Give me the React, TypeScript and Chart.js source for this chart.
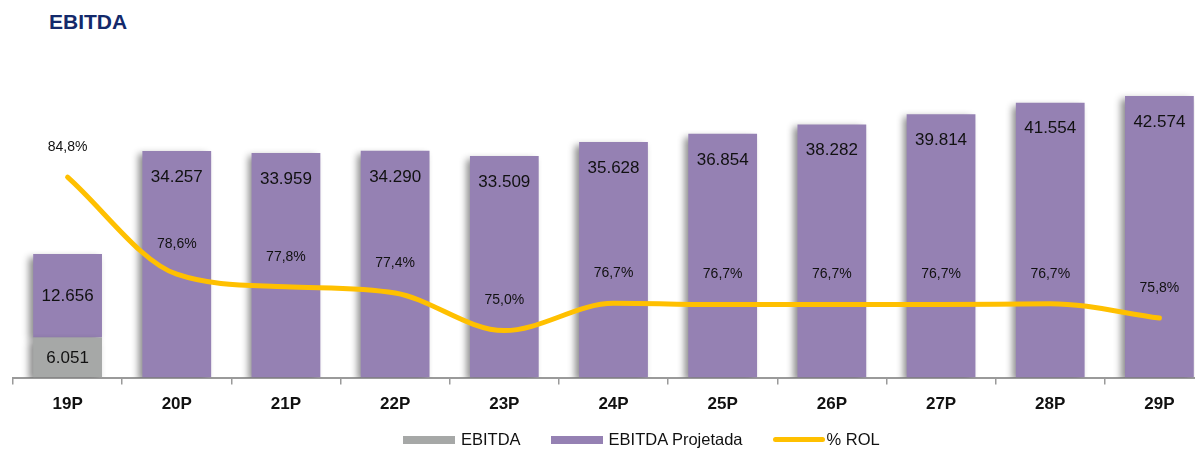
import React, { useEffect, useRef } from "react";
import { Chart, registerables } from "chart.js";

Chart.register(...registerables);

const categories = ["19P", "20P", "21P", "22P", "23P", "24P", "25P", "26P", "27P", "28P", "29P"];
const ebitda = [6051, null, null, null, null, null, null, null, null, null, null];
const ebitdaProjetada = [12656, 34257, 33959, 34290, 33509, 35628, 36854, 38282, 39814, 41554, 42574];
const rol = [84.8, 78.6, 77.8, 77.4, 75.0, 76.74, 76.66, 76.66, 76.66, 76.72, 75.8];

const FONT = '"Liberation Sans", Arial, sans-serif';
const GREY = "#a6a8a7";
const PURPLE = "#9581b3";
const YELLOW = "#ffc000";

const fmtNum = (v: number) => v.toLocaleString("pt-BR");
const fmtPct = (v: number) => v.toFixed(1).replace(".", ",") + "%";

const shadowPlugin = {
  id: "barShadow",
  beforeDatasetDraw(chart: any, args: any) {
    const ds = chart.data.datasets[args.index];
    if (ds.type === "line") return;
    const ctx = chart.ctx;
    ctx.save();
    ctx.shadowColor = "rgba(0,0,0,0.45)";
    ctx.shadowBlur = 7;
    ctx.shadowOffsetX = -4;
    ctx.shadowOffsetY = 3;
  },
  afterDatasetDraw(chart: any, args: any) {
    const ds = chart.data.datasets[args.index];
    if (ds.type === "line") return;
    chart.ctx.restore();
  },
};

const labelPlugin = {
  id: "valueLabels",
  afterDatasetsDraw(chart: any) {
    const ctx = chart.ctx;
    ctx.save();
    ctx.fillStyle = "#111111";
    ctx.textAlign = "center";
    ctx.textBaseline = "middle";
    chart.data.datasets.forEach((ds: any, di: number) => {
      const meta = chart.getDatasetMeta(di);
      meta.data.forEach((el: any, i: number) => {
        const v = ds.data[i];
        if (v == null) return;
        if (ds.type === "line") {
          ctx.font = `14px ${FONT}`;
          ctx.fillText(fmtPct(v), el.x, el.y - 30);
        } else {
          ctx.font = `17px ${FONT}`;
          const h = Math.abs(el.base - el.y);
          const top = Math.min(el.y, el.base);
          const bottom = Math.max(el.y, el.base);
          const y = h < 150 ? (top + bottom) / 2 + 1 : top + 26;
          ctx.fillText(fmtNum(v), el.x, y);
        }
      });
    });
    ctx.restore();
  },
};

export default function App() {
  const ref = useRef<HTMLCanvasElement | null>(null);
  useEffect(() => {
    if (!ref.current) return;
    const chart = new Chart(ref.current, {
      type: "bar",
      data: {
        labels: categories,
        datasets: [
          {
            type: "bar",
            label: "EBITDA",
            data: ebitda as any,
            backgroundColor: GREY,
            stack: "s",
            yAxisID: "y",
            order: 1,
            barPercentage: 0.63,
            categoryPercentage: 1,
          },
          {
            type: "bar",
            label: "EBITDA Projetada",
            data: ebitdaProjetada,
            backgroundColor: PURPLE,
            stack: "s",
            yAxisID: "y",
            order: 2,
            barPercentage: 0.63,
            categoryPercentage: 1,
          },
          {
            type: "line",
            label: "% ROL",
            data: rol,
            borderColor: YELLOW,
            backgroundColor: YELLOW,
            borderWidth: 5,
            borderCapStyle: "round",
            pointRadius: 0,
            cubicInterpolationMode: "monotone",
            yAxisID: "y2",
            order: 0,
          } as any,
        ],
      },
      options: {
        animation: false,
        responsive: false,
        maintainAspectRatio: false,
        layout: { padding: { left: 13, right: 0, top: 80, bottom: 27 } },
        plugins: { legend: { display: false }, tooltip: { enabled: false }, title: { display: false } },
        scales: {
          x: {
            stacked: true,
            offset: true,
            grid: {
              display: true,
              drawOnChartArea: false,
              tickLength: 7,
              color: "#9a9a9a",
              lineWidth: 1.5,
              offset: true,
            },
            border: { display: true, color: "#9a9a9a", width: 2 },
            ticks: {
              color: "#111111",
              padding: 10,
              font: { family: FONT, size: 17, weight: "bold" },
            },
          },
          y: { display: false, stacked: true, min: 0, max: 45000 },
          y2: { display: false, min: 72, max: 91 },
        },
      },
      plugins: [shadowPlugin, labelPlugin],
    });
    return () => chart.destroy();
  }, []);

  const legendItem = (color: string, text: string, line = false) => (
    <div style={{ display: "flex", alignItems: "center", marginRight: line ? 0 : 30 }}>
      <div
        style={{
          width: 52,
          height: line ? 5 : 8,
          background: color,
          borderRadius: line ? 3 : 0,
          marginRight: line ? 2 : 6,
        }}
      />
      <span style={{ fontFamily: FONT, fontSize: 16.5, color: "#111" }}>{text}</span>
    </div>
  );

  return (
    <div style={{ position: "fixed", left: 0, top: 0, width: 1195, height: 452, overflow: "hidden", background: "#fff" }}>
      <div
        style={{
          position: "absolute",
          left: 49,
          top: 11,
          fontFamily: FONT,
          fontWeight: "bold",
          fontSize: 21,
          lineHeight: 1,
          color: "#13296b",
        }}
      >
        EBITDA
      </div>
      <canvas ref={ref} width={1214} height={452} style={{ position: "absolute", left: 0, top: 0, width: 1214, height: 452 }} />
      <div style={{ position: "absolute", left: 403, top: 430, display: "flex", alignItems: "center" }}>
        {legendItem(GREY, "EBITDA")}
        {legendItem(PURPLE, "EBITDA Projetada")}
        {legendItem(YELLOW, "% ROL", true)}
      </div>
    </div>
  );
}
